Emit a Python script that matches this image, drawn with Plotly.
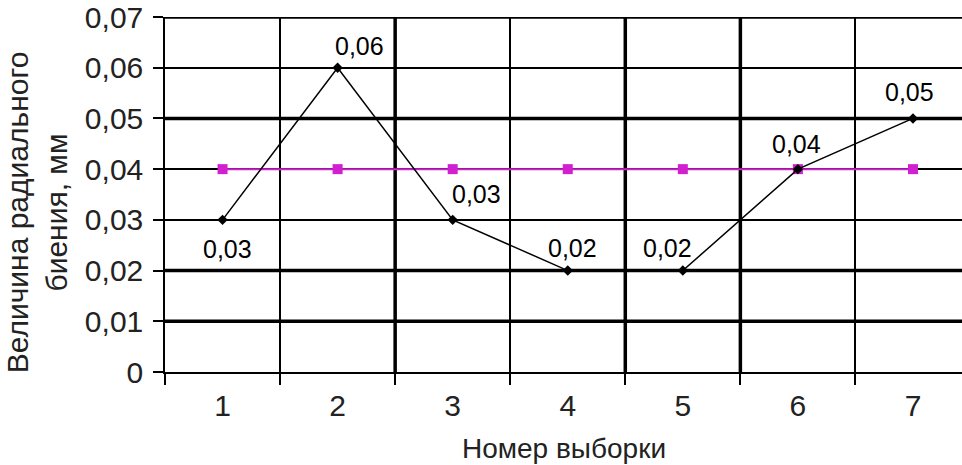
import plotly.graph_objects as go

# Sample numbers and measured radial runout (mm)
samples = ["1", "2", "3", "4", "5", "6", "7"]
runout = [0.03, 0.06, 0.03, 0.02, 0.02, 0.04, 0.05]
limit = [0.04, 0.04, 0.04, 0.04, 0.04, 0.04, 0.04]

y_ticks = [0, 0.01, 0.02, 0.03, 0.04, 0.05, 0.06, 0.07]
y_tick_text = ["0", "0,01", "0,02", "0,03", "0,04", "0,05", "0,06", "0,07"]

FONT = "Liberation Sans, Arial, sans-serif"
TEXT = "#222222"

fig = go.Figure()

fig.add_trace(go.Scatter(
    x=samples, y=limit, mode="lines+markers",
    line=dict(color="#CC22CC", width=2),
    marker=dict(symbol="square", size=10, color="#D020D0"),
    showlegend=False, hoverinfo="skip",
))
fig.add_trace(go.Scatter(
    x=samples, y=runout, mode="lines+markers",
    line=dict(color="black", width=1.5),
    marker=dict(symbol="diamond", size=8, color="black"),
    showlegend=False, hoverinfo="skip",
))

# value labels next to each measured point (pixel offsets x, y-up)
label_offsets = [(5, -29), (22, 22), (24, 26), (5, 23), (-15, 23), (-1, 25), (-3, 26)]
for i, (s, v) in enumerate(zip(samples, runout)):
    dx, dy = label_offsets[i]
    fig.add_annotation(
        x=i, y=v, xref="x", yref="y", text=f"{v:.2f}".replace(".", ","),
        showarrow=False, xshift=dx, yshift=dy,
        font=dict(family=FONT, size=25, color="black"),
    )

# heavier grid lines
for yv in [0.01, 0.02, 0.05, 0.07]:
    fig.add_shape(type="line", xref="paper", yref="y", x0=0, x1=1, y0=yv, y1=yv,
                  line=dict(color="black", width=3.5), layer="below")
for xv in [1.5, 3.5, 4.5]:
    fig.add_shape(type="line", xref="x", yref="paper", x0=xv, x1=xv, y0=0, y1=1,
                  line=dict(color="black", width=3.5), layer="below")

fig.add_annotation(
    xref="paper", yref="paper", x=0, y=0.45, xshift=-128,
    text="Величина радиального<br>биения, мм", textangle=-90, showarrow=False,
    xanchor="center", yanchor="middle",
    font=dict(family=FONT, size=30, color=TEXT),
)
fig.add_annotation(
    xref="paper", yref="paper", x=0.5, y=0, yshift=-76,
    text="Номер выборки", showarrow=False, xanchor="center", yanchor="middle",
    font=dict(family=FONT, size=28, color=TEXT),
)

fig.update_xaxes(
    type="category", range=[-0.5, 6.426], tickson="boundaries",
    ticks="outside", ticklen=11, tickwidth=2, tickcolor="black",
    showgrid=True, gridcolor="black", gridwidth=1.5,
    showline=True, linecolor="black", linewidth=1.5,
    tickfont=dict(family=FONT, size=30, color=TEXT), ticklabelstandoff=6,
)
fig.update_yaxes(
    range=[0, 0.07], tickvals=y_ticks, ticktext=y_tick_text,
    ticks="outside", ticklen=10, tickwidth=2, tickcolor="black",
    showgrid=True, gridcolor="black", gridwidth=1.5, zeroline=False,
    showline=True, linecolor="black", linewidth=1.5,
    tickfont=dict(family=FONT, size=30, color=TEXT), ticklabelstandoff=4,
)

fig.update_layout(
    width=962, height=465,
    margin=dict(l=165, r=0, t=17, b=93),
    paper_bgcolor="white", plot_bgcolor="white",
)

fig.write_html("out.html")
